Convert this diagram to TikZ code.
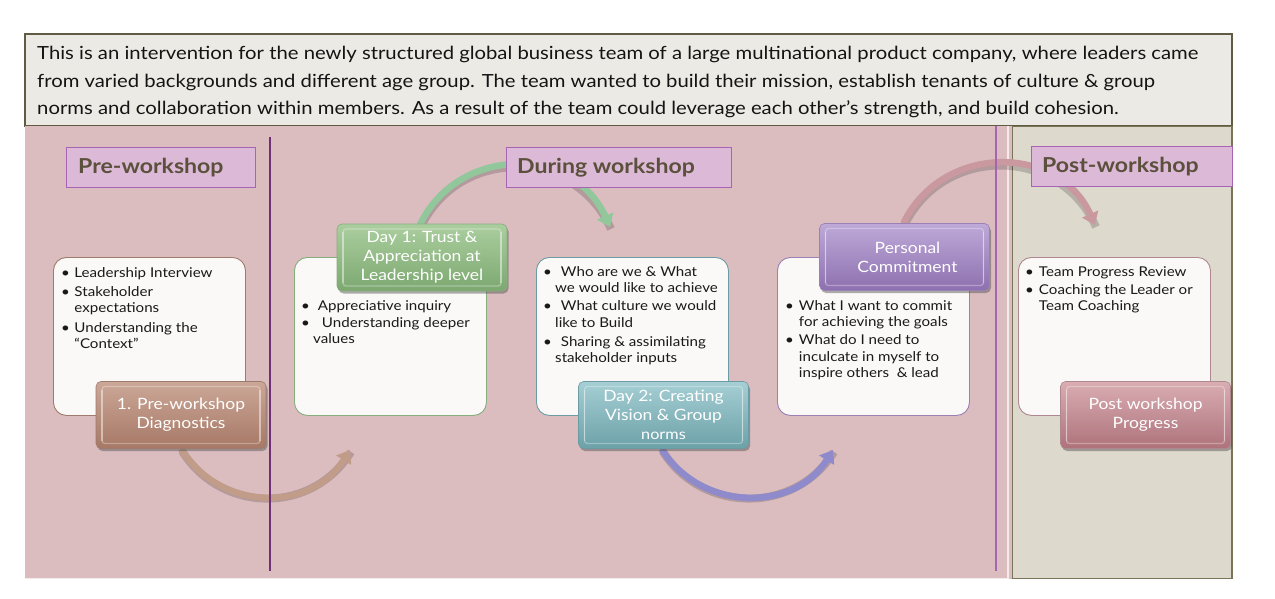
\documentclass[tikz,border=0pt]{standalone}
\usepackage{fontspec}
\setmainfont{Lato}[FakeStretch=1.12]
\usetikzlibrary{arrows.meta,shadows}
\definecolor{pinkbg}{HTML}{DBBDC0}
\definecolor{postbg}{HTML}{DDD9CD}
\definecolor{postborder}{HTML}{7B7358}
\definecolor{hdrbg}{HTML}{ECEAE5}
\definecolor{hdrborder}{HTML}{625B44}
\definecolor{lblfill}{HTML}{DDB9D8}
\definecolor{lblborder}{HTML}{A864B4}
\definecolor{lbltext}{HTML}{5A503C}
\definecolor{lineA}{HTML}{703078}
\definecolor{lineB}{HTML}{A864B4}
\definecolor{boxbg}{HTML}{FAF9F7}
\definecolor{brownT}{HTML}{CBA797}
\definecolor{brownB}{HTML}{A77866}
\definecolor{greenT}{HTML}{ABCE9F}
\definecolor{greenB}{HTML}{7CA870}
\definecolor{tealT}{HTML}{A5CFD4}
\definecolor{tealB}{HTML}{6CA1A8}
\definecolor{purpT}{HTML}{BEA9D8}
\definecolor{purpB}{HTML}{8D70AF}
\definecolor{pinkT}{HTML}{D9ADB2}
\definecolor{pinkB}{HTML}{AE727B}
\definecolor{arrBrown}{HTML}{C09C89}
\definecolor{arrGreen}{HTML}{92C79B}
\definecolor{arrBlue}{HTML}{8E8ACB}
\definecolor{arrPink}{HTML}{C9999F}
\definecolor{bdBrown}{HTML}{9E7B6C}
\definecolor{bdGreen}{HTML}{86AE7D}
\definecolor{bdTeal}{HTML}{6C9CA3}
\definecolor{bdPurp}{HTML}{9A80B5}
\definecolor{bdPink}{HTML}{AE8790}
\begin{document}
\begin{tikzpicture}[x=1pt,y=1pt,
  lbl/.style={draw=lblborder, fill=lblfill, line width=0.9pt, minimum height=40pt, inner sep=0pt},
  lbltxt/.style={anchor=west, inner sep=0pt, text=lbltext, font=\fontsize{20.6}{24}\selectfont\bfseries},
  wbox/.style={draw=#1, fill=boxbg, line width=0.9pt, rounded corners=13pt, minimum width=192pt, minimum height=158pt, inner sep=0pt},
  btxt/.style={anchor=base west, inner sep=0pt, text=black!90, font=\fontsize{13.5}{16.2}\selectfont},
  cbox/.style n args={3}{top color=#1, bottom color=#2, draw=#3, line width=0.6pt, rounded corners=5pt,
      minimum width=170pt, minimum height=67pt, inner sep=0pt, text=white, align=center,
      font=\fontsize{15.6}{19}\selectfont,
      drop shadow={shadow xshift=1.5pt, shadow yshift=-2.5pt, opacity=.45, fill=black!70},
      path picture={\draw[white, opacity=.3, line width=1.3pt, rounded corners=3pt]
         ([shift={(6pt,5pt)}]path picture bounding box.south west) rectangle
         ([shift={(-6pt,-5pt)}]path picture bounding box.north east);
         \draw[white, opacity=.35, line width=1.8pt]
         ([shift={(6pt,8pt)}]path picture bounding box.south west) --
         ([shift={(6pt,-8pt)}]path picture bounding box.north west);
         \draw[white, opacity=.35, line width=1.8pt]
         ([shift={(-6pt,8pt)}]path picture bounding box.south east) --
         ([shift={(-6pt,-8pt)}]path picture bounding box.north east);}},
  arr/.style={draw=#1, line width=6.5pt, -{Triangle[length=12pt,width=17pt]},
      preaction={draw=black, opacity=.18, line width=8pt, -, transform canvas={shift={(1pt,-2pt)}}}}
]
\useasboundingbox (0,0) rectangle (1275,-599);
\fill[white] (0,0) rectangle (1275,-599);

% backgrounds
\draw[fill=hdrbg, draw=hdrborder, line width=1.3pt] (25,-34) rectangle (1232,-126);
\fill[pinkbg] (25,-126) rectangle (1012,-579);
\draw[white!70!pinkbg, line width=1.6pt] (25,-578.5) -- (1008,-578.5) -- (1008,-126);
\draw[fill=postbg, draw=postborder, line width=1.6pt] (1012.5,-126.5) rectangle (1232,-578.5);

% header text
\node[anchor=base west, inner sep=0pt, font=\fontsize{18.1}{27.2}\selectfont, text=black!92] (hdr) at (37,-60)
 {\begin{tabular}[t]{@{}l@{}}
 This is an intervention for the newly structured global business team of a large multinational product company, where leaders came\\
 from varied backgrounds and different age group. The team wanted to build their mission, establish tenants of culture \& group\\
 norms and collaboration within members. As a result of the team could leverage each other{\char"27}s strength, and build cohesion.
 \end{tabular}};

% white boxes
\node[wbox=bdBrown, anchor=north west] (w1) at (53,-257) {};
\node[wbox=bdGreen, anchor=north west] (w2) at (294,-257) {};
\node[wbox=bdTeal, anchor=north west] (w3) at (536,-257) {};
\node[wbox=bdPurp, anchor=north west] (w4) at (777,-257) {};
\node[wbox=bdPink, anchor=north west] (w5) at (1018,-257) {};

% box texts
\node[btxt] (t1) at (61,-277) {\begin{tabular}[t]{@{}l@{\hspace{4.5pt}}l@{}}
 \textbullet & Leadership Interview\\[3.5pt]
 \textbullet & Stakeholder\\
  & expectations\\[3.5pt]
 \textbullet & Understanding the\\
  & ``Context''\end{tabular}};
\node[btxt] (t2) at (301,-310) {\begin{tabular}[t]{@{}l@{\hspace{8pt}}l@{}}
 \textbullet & Appreciative inquiry\\[1.5pt]
 \textbullet & \hspace{4pt}Understanding deeper\\[-0.5pt]
 \multicolumn{2}{@{}l@{}}{\hspace{12pt}values}\end{tabular}};
\node[btxt] (t3) at (543,-276) {\begin{tabular}[t]{@{}l@{\hspace{9pt}}l@{}}
 \textbullet & Who are we \& What\\
 \multicolumn{2}{@{}l@{}}{\hspace{12pt}we would like to achieve}\\[2.5pt]
 \textbullet & What culture we would\\
 \multicolumn{2}{@{}l@{}}{\hspace{12pt}like to Build}\\[3pt]
 \textbullet & Sharing \& assimilating\\
 \multicolumn{2}{@{}l@{}}{\hspace{12pt}stakeholder inputs}\end{tabular}};
\node[btxt] (t4) at (785,-310) {\begin{tabular}[t]{@{}l@{\hspace{5pt}}l@{}}
 \textbullet & What I want to commit\\
  & for achieving the goals\\[2.5pt]
 \textbullet & What do I need to\\
  & inculcate in myself to\\
  & inspire others \ \& lead\end{tabular}};
\node[btxt] (t5) at (1025,-276) {\begin{tabular}[t]{@{}l@{\hspace{5pt}}l@{}}
 \textbullet & Team Progress Review\\[2.5pt]
 \textbullet & Coaching the Leader or\\
  & Team Coaching\end{tabular}};

% named arrow end points
\coordinate (e1) at (350,-450);
\coordinate (e2) at (610,-227);
\coordinate (e3) at (833,-450);
\coordinate (e4) at (1095,-225);

% colored box positions
\path (181,-415) coordinate (p1) (422,-257.5) coordinate (p2) (663.5,-415) coordinate (p3)
      (904.5,-257) coordinate (p4) (1145.5,-415) coordinate (p5);

% arrows
\draw[arr=arrBrown] (p1) ++(0,-34) .. controls +(-58:74) and +(-122:74) .. (e1);
\draw[arr=arrGreen] (p2) ++(-2,33) .. controls +(64:89) and +(114:89) .. (e2);
\draw[arr=arrBlue] (p3) ++(-2,-34) .. controls +(-58:74) and +(-122:74) .. (e3);
\draw[arr=arrPink] (p4) ++(-1,34) .. controls +(64:89) and +(114:89) .. (e4);

% divider lines
\draw[lineA, line width=1.5pt] (270,-137) -- (270,-571);
\draw[lineB, line width=1.5pt] (996,-126) -- (996,-571);

% phase labels
\node[lbl, anchor=north west, minimum width=189pt] (L1) at (66,-147) {};
\node[lbltxt] (L1t) at (78,-168) {Pre-workshop};
\node[lbl, anchor=north west, minimum width=225pt] (L2) at (506,-147) {};
\node[lbltxt] (L2t) at (517,-168) {During workshop};
\node[lbl, anchor=north west, minimum width=201pt] (L3) at (1031,-146) {};
\node[lbltxt] (L3t) at (1042,-167) {Post-workshop};

% colored boxes
\node[cbox={brownT}{brownB}{bdBrown}] (c1) at (p1) {1. Pre-workshop\\Diagnostics};
\node[cbox={greenT}{greenB}{bdGreen}] (c2) at (p2) {Day 1: Trust \&\\Appreciation at\\Leadership level};
\node[cbox={tealT}{tealB}{bdTeal}] (c3) at (p3) {Day 2: Creating\\Vision \& Group\\{\fontsize{14.5}{17}\selectfont norms}};
\node[cbox={purpT}{purpB}{bdPurp}] (c4) at (p4) {\hspace{6pt}Personal\\\hspace{6pt}Commitment};
\node[cbox={pinkT}{pinkB}{bdPink}] (c5) at (p5) {Post workshop\\Progress};
\end{tikzpicture}
\end{document}
